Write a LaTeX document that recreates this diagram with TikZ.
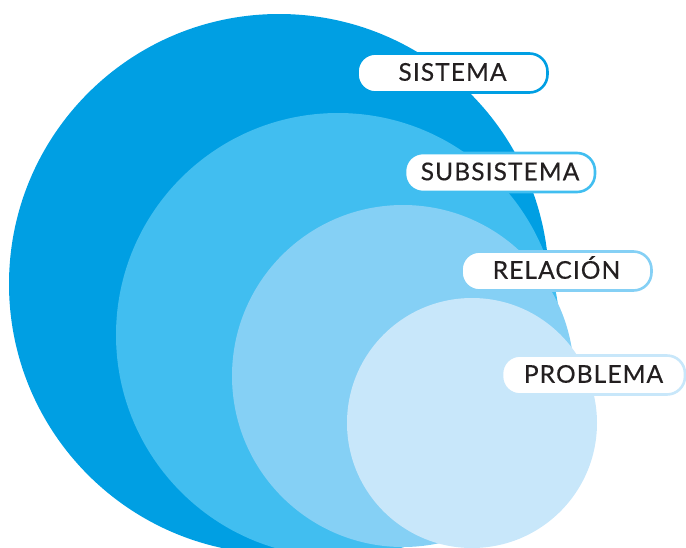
\documentclass[tikz,border=0pt]{standalone}
\usepackage{fontspec}
\setmainfont{Lato}[LetterSpace=4.5, FakeBold=0.4]
\definecolor{cA}{HTML}{009FE3}
\definecolor{cB}{HTML}{41BEF0}
\definecolor{cC}{HTML}{85D0F5}
\definecolor{cD}{HTML}{C8E7FA}
\definecolor{txt}{HTML}{231F20}
\tikzset{
  lbl/.style={fill=white, line width=2.6pt, rounded corners=18pt,
    minimum width=190pt, minimum height=39pt, inner sep=0pt,
    text height=17pt, text depth=1.5pt, text=txt,
    font=\fontsize{24.5}{30}\selectfont}
}
\begin{document}
\begin{tikzpicture}[x=1pt,y=-1pt]
\useasboundingbox (0,0) rectangle (686,547);
\begin{scope}
  \clip (0,0) rectangle (686,547);
  \fill[cA] (279,284) circle[radius=270];
  \fill[cB] (338,335) circle[radius=222];
  \fill[cC] (403,376) circle[radius=171];
  \fill[cD] (472,423) circle[radius=125];
  \node[lbl, draw=cA] (sistema) at (452.5,73) {SISTEMA};
  \node[lbl, draw=cB] (subsistema) at (500,172.5) {SUBSISTEMA};
  \node[lbl, draw=cC] (relacion) at (556.5,271) {RELACIÓN};
  \node[lbl, draw=cD, minimum width=183pt] (problema) at (593.5,375) {PROBLEMA};
\end{scope}
\end{tikzpicture}
\end{document}
